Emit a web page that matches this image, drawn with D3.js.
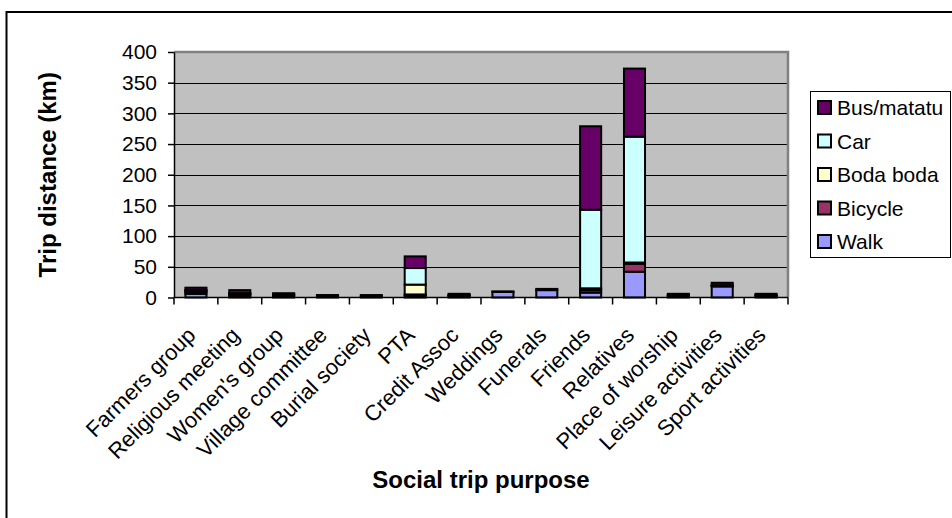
<!DOCTYPE html>
<html>
<head>
<meta charset="utf-8">
<script src="https://cdn.jsdelivr.net/npm/d3@7"></script>
<style>
  html, body { margin: 0; padding: 0; background: #fff; }
  svg { display: block; font-family: "Liberation Sans", Arial, sans-serif; }
</style>
</head>
<body>
<svg id="chart" width="952" height="518"></svg>
<script>
const categories = ["Farmers group", "Religious meeting", "Women's group", "Village committee",
  "Burial society", "PTA", "Credit Assoc", "Weddings", "Funerals", "Friends", "Relatives",
  "Place of worship", "Leisure activities", "Sport activities"];
const walk     = [6, 2, 2, 1, 1, 3, 2, 9, 12, 8, 42, 2, 18, 2];
const bicycle  = [3, 3, 2, 1, 1, 2, 1, 0, 0, 4, 13, 1, 1, 1];
const bodaBoda = [2, 1, 1, 1, 0, 16, 1, 0, 0, 3, 2, 1, 1, 1];
const car      = [1, 1, 0, 0, 0, 27, 0, 0, 0, 128, 205, 0, 0, 0];
const bus      = [4, 5, 2, 1, 2, 19, 2, 1, 2, 136, 111, 2, 4, 2];
const seriesNames = ["Walk", "Bicycle", "Boda boda", "Car", "Bus/matatu"];
const yTicks = [0, 50, 100, 150, 200, 250, 300, 350, 400];

const colors = {"Walk": "#9999FF", "Bicycle": "#993366", "Boda boda": "#FFFFCC", "Car": "#CCFFFF", "Bus/matatu": "#660066"};
const seriesValues = [walk, bicycle, bodaBoda, car, bus];

const rows = categories.map((c, i) => {
  const r = {cat: c};
  seriesNames.forEach((s, k) => r[s] = seriesValues[k][i]);
  return r;
});

const svg = d3.select("#chart");
const L = 174, R = 788, T = 52, B = 297.5;

// outer border
svg.append("rect").attr("x", 6.5).attr("y", 12).attr("width", 960).attr("height", 520)
  .attr("fill", "#fff").attr("stroke", "#000").attr("stroke-width", 2);

const x = d3.scaleBand().domain(categories).range([L, R]).paddingInner(0.52).paddingOuter(0.26);
const y = d3.scaleLinear().domain([0, 400]).range([B, T]);

// plot background
svg.append("rect").attr("x", L).attr("y", T).attr("width", R - L).attr("height", B - T)
  .attr("fill", "#C0C0C0");

// gridlines
svg.append("g").selectAll("line").data(yTicks.filter(d => d > 0)).join("line")
  .attr("x1", L).attr("x2", R).attr("y1", d => Math.round(y(d)) + 0.5).attr("y2", d => Math.round(y(d)) + 0.5)
  .attr("stroke", "#000").attr("stroke-width", 1.2);

// plot border (top & right gray)
svg.append("path").attr("d", `M${L},${T} H${R} V${B}`).attr("fill", "none")
  .attr("stroke", "#808080").attr("stroke-width", 2.5);

// stacked bars
const stack = d3.stack().keys(seriesNames)(rows);
const gBars = svg.append("g");
stack.forEach(layer => {
  gBars.append("g").selectAll("rect").data(layer.filter(d => d[1] - d[0] > 0)).join("rect")
    .attr("x", d => x(d.data.cat))
    .attr("width", x.bandwidth())
    .attr("y", d => y(d[1]))
    .attr("height", d => y(d[0]) - y(d[1]))
    .attr("fill", colors[layer.key])
    .attr("stroke", "#000").attr("stroke-width", 2);
});

// y axis
const yAxis = d3.axisLeft(y).tickValues(yTicks).tickSize(6).tickPadding(11).tickSizeOuter(0);
const gy = svg.append("g").attr("transform", `translate(${L},0)`).call(yAxis);
gy.select(".domain").attr("stroke", "#000").attr("stroke-width", 1.5);
gy.selectAll(".tick line").attr("stroke", "#000").attr("stroke-width", 1.5);
gy.selectAll(".tick text").attr("font-size", 21).attr("fill", "#000")
  .attr("font-family", "'Liberation Sans', Arial, sans-serif");

// x axis with ticks between categories
const gx = svg.append("g");
gx.append("line").attr("x1", L).attr("x2", R).attr("y1", B).attr("y2", B)
  .attr("stroke", "#000").attr("stroke-width", 1.5);
const step = x.step();
gx.selectAll("line.tk").data(d3.range(categories.length + 1)).join("line").attr("class", "tk")
  .attr("x1", i => L + i * step).attr("x2", i => L + i * step)
  .attr("y1", B).attr("y2", B + 7).attr("stroke", "#000").attr("stroke-width", 1.5);

gx.selectAll("text.cat").data(categories).join("text").attr("class", "cat")
  .attr("transform", d => `translate(${x(d) + x.bandwidth() / 2 + 1},${B + 39}) rotate(-45)`)
  .attr("text-anchor", "end")
  .attr("font-size", 22).attr("fill", "#000")
  .text(d => d);

// axis titles
svg.append("text").attr("transform", `translate(56,${(T + B) / 2}) rotate(-90)`)
  .attr("text-anchor", "middle").attr("font-size", 24).attr("font-weight", "bold").text("Trip distance (km)");
svg.append("text").attr("x", 481).attr("y", 488)
  .attr("text-anchor", "middle").attr("font-size", 24).attr("font-weight", "bold").text("Social trip purpose");

// legend
const lg = svg.append("g");
lg.append("rect").attr("x", 810.5).attr("y", 91.5).attr("width", 140).attr("height", 166)
  .attr("fill", "#fff").attr("stroke", "#000").attr("stroke-width", 1);
const legendOrder = seriesNames.slice().reverse();
const li = lg.selectAll("g.li").data(legendOrder).join("g").attr("class", "li")
  .attr("transform", (d, i) => `translate(818,${108 + i * 33.5})`);
li.append("rect").attr("x", 0).attr("y", -7).attr("width", 13).attr("height", 13)
  .attr("fill", d => colors[d]).attr("stroke", "#000").attr("stroke-width", 2);
li.append("text").attr("x", 19).attr("y", 0).attr("dy", "0.35em").attr("font-size", 21).text(d => d);
</script>
</body>
</html>
